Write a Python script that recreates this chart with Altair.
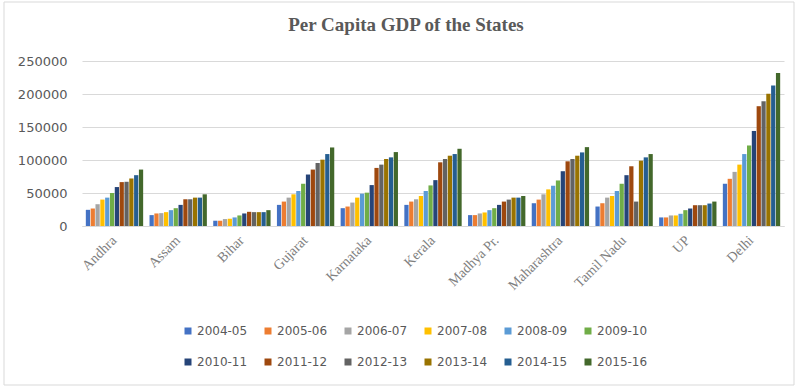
import altair as alt
import pandas as pd

states = ["Andhra", "Assam", "Bihar", "Gujarat", "Karnataka", "Kerala",
          "Madhya Pr.", "Maharashtra", "Tamil Nadu", "UP", "Delhi"]
years = ["2004-05", "2005-06", "2006-07", "2007-08", "2008-09", "2009-10",
         "2010-11", "2011-12", "2012-13", "2013-14", "2014-15", "2015-16"]

andhra = [24500, 26500, 33000, 40000, 43000, 50000, 59000, 66500, 67000, 72000, 77000, 85500]
assam = [16500, 19000, 19500, 21000, 24000, 27000, 32000, 40500, 40500, 43000, 43000, 48000]
bihar = [8000, 8000, 10500, 11000, 13000, 16000, 19000, 21500, 21000, 21000, 21000, 24000]
gujarat = [32000, 37000, 43000, 48000, 53000, 64000, 78000, 85500, 95500, 100500, 109000, 119000]
karnataka = [27000, 29500, 35500, 43000, 49000, 50500, 62000, 88000, 93000, 101500, 104000, 112000]
kerala = [32000, 37000, 40500, 45500, 53000, 61500, 69500, 96500, 101500, 106500, 109000, 117000]
madhya = [16500, 16500, 19000, 20500, 24000, 27000, 32000, 37000, 40000, 43000, 43000, 45500]
maharashtra = [34500, 40000, 48000, 55500, 61000, 69000, 83000, 98000, 101500, 106500, 111500, 119500]
tamil_nadu = [29500, 34500, 43000, 45500, 53000, 64000, 77000, 90500, 37000, 99000, 104000, 109000]
up = [13000, 13000, 16000, 16000, 18500, 24000, 26500, 31500, 31500, 31500, 34000, 37000]
delhi = [64000, 71500, 82000, 93000, 109000, 122000, 144000, 181500, 189000, 200500, 213000, 232000]

series = [andhra, assam, bihar, gujarat, karnataka, kerala, madhya,
          maharashtra, tamil_nadu, up, delhi]

colors = ["#4472C4", "#ED7D31", "#A5A5A5", "#FFC000", "#5B9BD5", "#70AD47",
          "#264478", "#9E480E", "#636363", "#997300", "#255E91", "#43682B"]

rows = []
for s, vals in zip(states, series):
    for y, v in zip(years, vals):
        rows.append({"State": s, "Year": y, "GDP": v})
df = pd.DataFrame(rows)

W, H = 702, 165

bars = alt.Chart(df).mark_bar().encode(
    x=alt.X("State:N", sort=states,
            scale=alt.Scale(paddingInner=0.1, paddingOuter=0.06),
            axis=alt.Axis(title=None, labelAngle=-45, labelAlign="right",
                          labelBaseline="middle", labelPadding=12,
                          labelFont="Liberation Serif", labelFontSize=14,
                          labelColor="#808080", ticks=False,
                          domainColor="#d9d9d9", domainWidth=1)),
    xOffset=alt.XOffset("Year:N", sort=years, scale=alt.Scale(paddingInner=0.12)),
    y=alt.Y("GDP:Q", scale=alt.Scale(domain=[0, 250000], nice=False),
            axis=alt.Axis(title=None, values=[0, 50000, 100000, 150000, 200000, 250000],
                          format="d", labelFont="DejaVu Sans", labelFontSize=13,
                          labelColor="#595959", labelPadding=15, ticks=False,
                          domain=False, gridColor="#d9d9d9", gridWidth=1)),
    color=alt.Color("Year:N", sort=years,
                    scale=alt.Scale(domain=years, range=colors),
                    legend=alt.Legend(title=None, orient="none", legendX=100, legendY=264,
                                      columns=6, direction="horizontal",
                                      symbolType="square", symbolSize=49,
                                      symbolStrokeWidth=0, labelFont="DejaVu Sans",
                                      labelFontSize=12, labelColor="#595959",
                                      columnPadding=14, rowPadding=19, labelOffset=3)),
)

frame = alt.Chart(pd.DataFrame({"a": [0]})).mark_rect(
    fill=None, stroke="#d9d9d9", strokeWidth=1
).encode(
    x=alt.value(-78), x2=alt.value(712), y=alt.value(-59), y2=alt.value(324)
)

chart = alt.layer(frame, bars).properties(
    width=W, height=H,
    title=alt.TitleParams("Per Capita GDP of the States", font="Liberation Serif",
                          fontSize=19, fontWeight="bold", color="#595959",
                          anchor="middle", baseline="alphabetic", offset=-48, dx=-27),
    padding={"left": 82, "top": 61, "right": 11, "bottom": 164},
    autosize=alt.AutoSizeParams(type="none"),
    background="white",
).configure_view(stroke=None)

chart.save("out.html", embed_options={"renderer": "svg", "actions": False})
